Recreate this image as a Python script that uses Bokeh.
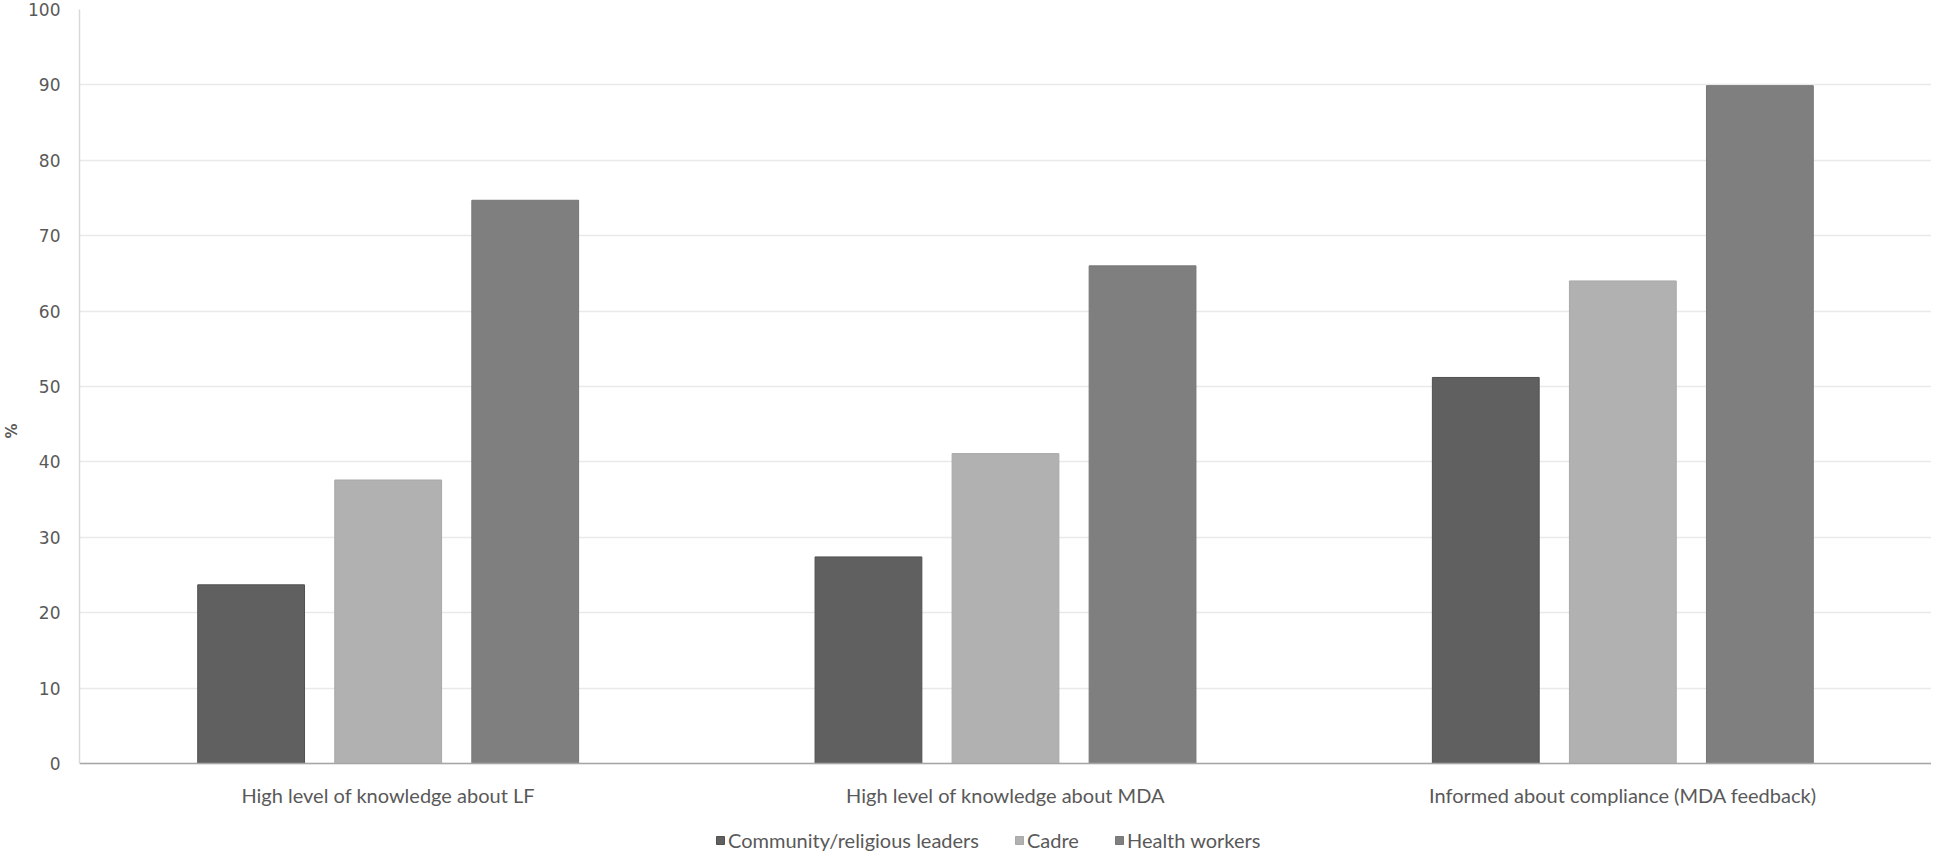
from bokeh.plotting import figure
from bokeh.models import FactorRange, Range1d, FixedTicker, Legend, LegendItem, ColumnDataSource
from bokeh.transform import dodge
from bokeh.embed import file_html
from bokeh.resources import INLINE

categories = ["High level of knowledge about LF",
              "High level of knowledge about MDA",
              "Informed about compliance (MDA feedback)"]
series = ["Community/religious leaders", "Cadre", "Health workers"]
leaders = [23.7, 27.4, 51.2]
cadre = [37.6, 41.1, 64.0]
health = [74.7, 66.0, 89.9]
y_ticks = [0, 10, 20, 30, 40, 50, 60, 70, 80, 90, 100]

colors = ["#606060", "#b1b1b1", "#7f7f7f"]
edges = ["#505050", "#a8a8a8", "#767676"]

src = ColumnDataSource(dict(cat=categories, leaders=leaders, cadre=cadre, health=health))

# frame extends below zero so that the category labels and legend sit inside it
p = figure(x_range=FactorRange(*categories, range_padding=0),
           y_range=Range1d(-11.8, 100),
           width=1931, height=852,
           output_backend="svg", toolbar_location=None,
           min_border_left=73, min_border_right=0, min_border_top=9, min_border_bottom=0)

offs = [-0.222, 0.0, 0.222]
renderers = []
for col, off, c, e in zip(["leaders", "cadre", "health"], offs, colors, edges):
    r = p.vbar(x=dodge("cat", off, range=p.x_range), top=col, width=0.173, bottom=0,
               source=src, fill_color=c, line_color=e, line_width=1)
    renderers.append(r)

p.outline_line_color = None
p.background_fill_color = "white"
p.border_fill_color = "white"

p.xgrid.grid_line_color = None
p.ygrid.grid_line_color = "#e9e9e9"
p.ygrid.grid_line_width = 1.5

p.yaxis.ticker = FixedTicker(ticks=y_ticks)
p.yaxis.bounds = (0, 100)
p.yaxis.axis_line_color = "#d9d9d9"
p.yaxis.axis_line_width = 1.5
p.yaxis.major_tick_line_color = None
p.yaxis.major_tick_out = 0
p.yaxis.major_tick_in = 0
p.yaxis.minor_tick_line_color = None
p.yaxis.major_label_text_font = "DejaVu Sans"
p.yaxis.major_label_text_font_size = "17px"
p.yaxis.major_label_text_color = "#595959"
p.yaxis.major_label_standoff = 19
p.yaxis.axis_label = "%"
p.yaxis.axis_label_text_font = "DejaVu Sans"
p.yaxis.axis_label_text_font_size = "15px"
p.yaxis.axis_label_text_font_style = "bold"
p.yaxis.axis_label_text_color = "#595959"
p.yaxis.axis_label_standoff = 4

p.xaxis.fixed_location = 0
p.xaxis.axis_line_color = "#a6a6a6"
p.xaxis.axis_line_width = 1.5
p.xaxis.major_tick_line_color = None
p.xaxis.major_tick_out = 0
p.xaxis.major_tick_in = 0
p.xaxis.minor_tick_line_color = None
p.xaxis.major_label_text_font = "Lato"
p.xaxis.major_label_text_font_size = "20px"
p.xaxis.major_label_text_color = "#595959"
p.xaxis.major_label_standoff = 19

legend = Legend(items=[LegendItem(label=s, renderers=[r]) for s, r in zip(series, renderers)],
                orientation="horizontal", location=(636, 0),
                label_text_font="Lato", label_text_font_size="20px", label_text_color="#595959",
                glyph_width=10, glyph_height=10, label_standoff=3, spacing=35,
                border_line_color=None, background_fill_alpha=0, padding=0, margin=0)
p.add_layout(legend, "center")

open("out.html", "w").write(file_html(p, INLINE))
